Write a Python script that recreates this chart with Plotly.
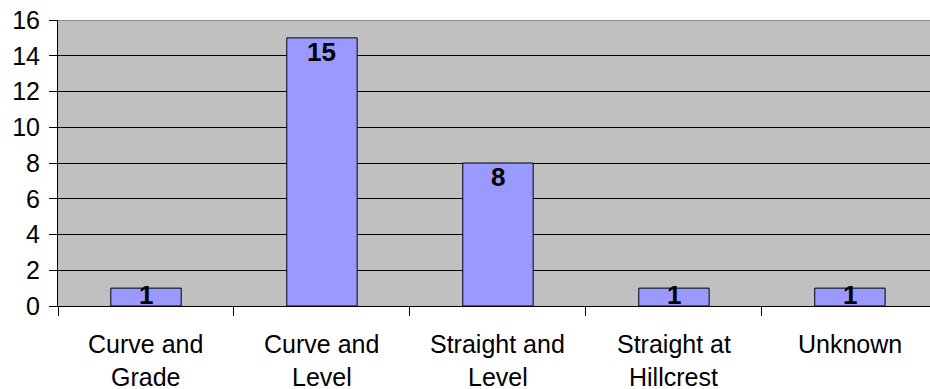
import plotly.graph_objects as go

categories = ["Curve and<br>Grade", "Curve and<br>Level", "Straight and<br>Level", "Straight at<br>Hillcrest", "Unknown"]
values = [1, 15, 8, 1, 1]
y_ticks = [0, 2, 4, 6, 8, 10, 12, 14, 16]

FONT = "Liberation Sans, Arial, sans-serif"
xs = list(range(len(categories)))
boundaries = [i - 0.5 for i in range(len(categories) + 1)]

fig = go.Figure()
fig.add_trace(go.Bar(
    x=xs, y=values, width=0.4,
    marker=dict(color="#9999FF", line=dict(color="#000000", width=1)),
    hoverinfo="skip",
))

annotations = []
for i, v in enumerate(values):
    if v < 1.5:
        annotations.append(dict(x=i, y=0, xref="x", yref="y", yanchor="bottom", yshift=-6,
                                text=f"<b>{v}</b>", showarrow=False,
                                font=dict(family=FONT, size=26, color="#000000")))
    else:
        annotations.append(dict(x=i, y=v, xref="x", yref="y", yanchor="top", yshift=3,
                                text=f"<b>{v}</b>", showarrow=False,
                                font=dict(family=FONT, size=26, color="#000000")))
for i, c in enumerate(categories):
    lines = c.split("<br>")
    for j, ln in enumerate(lines):
        annotations.append(dict(x=i, y=0, xref="x", yref="paper", yanchor="top",
                                yshift=-22 - 33 * j, text=ln, showarrow=False,
                                font=dict(family=FONT, size=25, color="#000000")))

fig.update_layout(
    width=930, height=389,
    margin=dict(l=58, r=0, t=20, b=83),
    paper_bgcolor="#FFFFFF", plot_bgcolor="#C0C0C0",
    showlegend=False, bargap=0.6,
    annotations=annotations,
    shapes=[dict(type="line", xref="paper", yref="y", x0=0, x1=1, y0=16, y1=16,
                 line=dict(color="#8C8C8C", width=2), layer="above")],
    xaxis=dict(range=[-0.5, 4.455], tickvals=boundaries, ticktext=[""] * len(boundaries),
               automargin=False, ticks="outside", ticklen=9, tickcolor="#000000",
               showgrid=False, zeroline=False, showline=True, linecolor="#000000", linewidth=1),
    yaxis=dict(range=[0, 16], tickvals=y_ticks, ticks="outside", ticklen=8, tickcolor="#000000",
               tickfont=dict(family=FONT, size=25, color="#000000"), ticklabelstandoff=4,
               automargin=False,
               showgrid=True, gridcolor="#000000", gridwidth=1,
               zeroline=False, showline=True, linecolor="#000000", linewidth=1),
)

fig.write_html("out.html", config={"displayModeBar": False},
               post_script="document.body.style.margin='0';document.body.style.overflow='hidden';")
